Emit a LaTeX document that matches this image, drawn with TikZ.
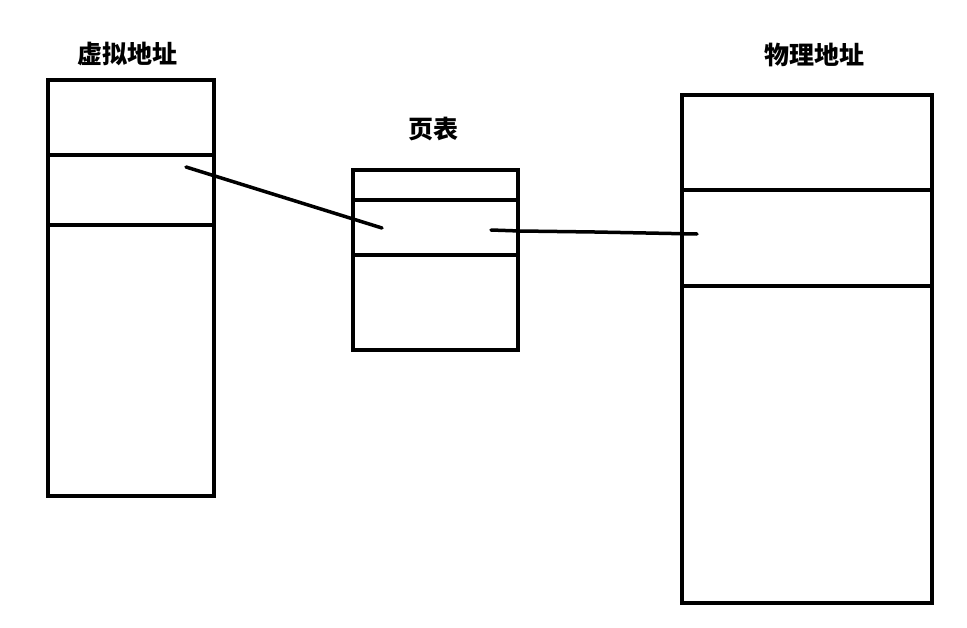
\documentclass[tikz,border=0pt]{standalone}
\usepackage{fontspec}
\newfontfamily\cjk{Noto Sans CJK SC}
\begin{document}
\begin{tikzpicture}[x=1pt,y=-1pt,
  boxline/.style={draw=black,line width=3.5pt},
  link/.style={draw=black,line width=3.5pt,line cap=round,line join=round},
  title/.style={font=\cjk\bfseries\fontsize{25}{27}\selectfont,inner sep=0pt}]
\useasboundingbox[fill=white] (0,0) rectangle (967,627);
% virtual address
\draw[boxline] (48,80) rectangle (214,496);
\draw[boxline] (48,155) -- (214,155);
\draw[boxline] (48,225) -- (214,225);
\node[title] (vlabel) at (127,54) {虚拟地址};
% page table
\draw[boxline] (353,170) rectangle (518,350);
\draw[boxline] (353,200) -- (518,200);
\draw[boxline] (353,255) -- (518,255);
\node[title] (tlabel) at (433,129) {页表};
% physical address
\draw[boxline] (682,95) rectangle (932,603);
\draw[boxline] (682,190) -- (933,190);
\draw[boxline] (682,286) -- (933,286);
\node[title] (plabel) at (814,55) {物理地址};
% connectors
\coordinate (v1) at (186,167);
\coordinate (t1) at (382,228);
\coordinate (t2) at (491,230);
\coordinate (p1) at (697,234);
\draw[link] (v1) -- (t1);
\draw[link] (t2) -- (520,231) -- (595,232) -- (p1);
\end{tikzpicture}
\end{document}
